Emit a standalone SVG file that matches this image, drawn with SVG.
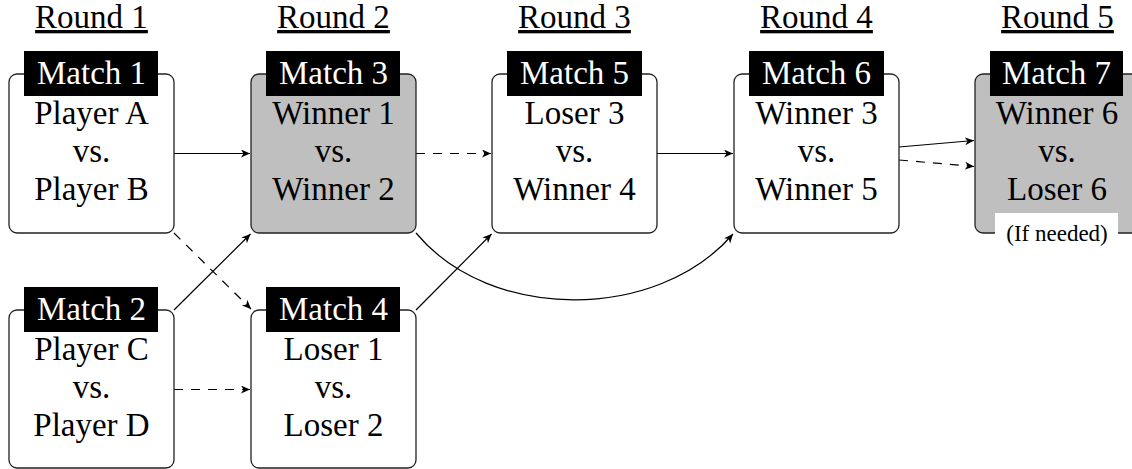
<svg xmlns="http://www.w3.org/2000/svg" width="1132" height="469" viewBox="0 0 1132 469">
  <style>
    text { font-family: 'Liberation Serif', 'DejaVu Serif', serif; }
    .box { fill: #ffffff; stroke: #222222; stroke-width: 1.3; }
    .box.final { fill: #bfbfbf; }
    .tag { fill: #000000; }
    .tagtext { fill: #ffffff; font-size: 33px; text-anchor: middle; }
    .body { fill: #000000; font-size: 33px; text-anchor: middle; }
    .round { fill: #000000; font-size: 33px; text-anchor: middle; text-decoration: underline; }
    .note { fill: #000000; font-size: 23px; text-anchor: middle; }
    .edge { fill: none; stroke: #000000; stroke-width: 1.2; marker-end: url(#tip); }
    .dashed { stroke-dasharray: 9 8; }
  </style>
  <defs>
    <marker id="tip" markerUnits="userSpaceOnUse" markerWidth="12" markerHeight="10" refX="9" refY="4" orient="auto">
      <path d="M0,0 L9,4 L0,8 L2.5,4 Z" fill="#000000"/>
    </marker>
  </defs>

  <rect width="1132" height="469" fill="#ffffff"/>

  <!-- round headings -->
  <g id="rounds">
    <text class="round" x="91.5" y="28">Round 1</text>
    <text class="round" x="333.5" y="28">Round 2</text>
    <text class="round" x="574.5" y="28">Round 3</text>
    <text class="round" x="816.5" y="28">Round 4</text>
    <text class="round" x="1057.5" y="28">Round 5</text>
  </g>

  <!-- connectors -->
  <g id="connectors">
    <line class="edge" x1="174" y1="153.5" x2="250" y2="153.5"/>
    <line class="edge dashed" x1="416" y1="153.5" x2="491" y2="153.5"/>
    <line class="edge" x1="657" y1="153.5" x2="733" y2="153.5"/>
    <line class="edge" x1="899" y1="147" x2="974" y2="140.5"/>
    <line class="edge dashed" x1="899" y1="160" x2="974" y2="166.5"/>
    <line class="edge dashed" x1="174" y1="233" x2="251" y2="309"/>
    <line class="edge" x1="174" y1="310" x2="250.5" y2="234"/>
    <line class="edge dashed" x1="174" y1="389.5" x2="250" y2="389.5"/>
    <line class="edge" x1="416" y1="310" x2="491.5" y2="234"/>
    <path class="edge" d="M416,233 C490,322 657,322 733,234"/>
  </g>

  <!-- Round 1 -->
  <g id="match1">
    <rect class="box" x="9" y="74" width="165" height="159" rx="8"/>
    <rect class="tag" x="24" y="51" width="134" height="45"/>
    <text class="tagtext" x="91.5" y="84">Match 1</text>
    <text class="body" x="91.5" y="124">Player A</text>
    <text class="body" x="91.5" y="162">vs.</text>
    <text class="body" x="91.5" y="200">Player B</text>
  </g>
  <g id="match2">
    <rect class="box" x="9" y="310" width="165" height="158" rx="8"/>
    <rect class="tag" x="24" y="287" width="134" height="45"/>
    <text class="tagtext" x="91.5" y="320">Match 2</text>
    <text class="body" x="91.5" y="360">Player C</text>
    <text class="body" x="91.5" y="398">vs.</text>
    <text class="body" x="91.5" y="436">Player D</text>
  </g>

  <!-- Round 2 -->
  <g id="match3">
    <rect class="box final" x="251" y="74" width="165" height="159" rx="8"/>
    <rect class="tag" x="266" y="51" width="134" height="45"/>
    <text class="tagtext" x="333.5" y="84">Match 3</text>
    <text class="body" x="333.5" y="124">Winner 1</text>
    <text class="body" x="333.5" y="162">vs.</text>
    <text class="body" x="333.5" y="200">Winner 2</text>
  </g>
  <g id="match4">
    <rect class="box" x="251" y="310" width="165" height="158" rx="8"/>
    <rect class="tag" x="266" y="287" width="134" height="45"/>
    <text class="tagtext" x="333.5" y="320">Match 4</text>
    <text class="body" x="333.5" y="360">Loser 1</text>
    <text class="body" x="333.5" y="398">vs.</text>
    <text class="body" x="333.5" y="436">Loser 2</text>
  </g>

  <!-- Round 3 -->
  <g id="match5">
    <rect class="box" x="492" y="74" width="165" height="159" rx="8"/>
    <rect class="tag" x="507" y="51" width="135" height="45"/>
    <text class="tagtext" x="574.5" y="84">Match 5</text>
    <text class="body" x="574.5" y="124">Loser 3</text>
    <text class="body" x="574.5" y="162">vs.</text>
    <text class="body" x="574.5" y="200">Winner 4</text>
  </g>

  <!-- Round 4 -->
  <g id="match6">
    <rect class="box" x="734" y="74" width="165" height="159" rx="8"/>
    <rect class="tag" x="749" y="51" width="135" height="45"/>
    <text class="tagtext" x="816.5" y="84">Match 6</text>
    <text class="body" x="816.5" y="124">Winner 3</text>
    <text class="body" x="816.5" y="162">vs.</text>
    <text class="body" x="816.5" y="200">Winner 5</text>
  </g>

  <!-- Round 5 -->
  <g id="match7">
    <rect class="box final" x="975" y="74" width="165" height="159" rx="8"/>
    <rect class="tag" x="990" y="51" width="133" height="45"/>
    <text class="tagtext" x="1056.5" y="84">Match 7</text>
    <text class="body" x="1057" y="124">Winner 6</text>
    <text class="body" x="1057" y="162">vs.</text>
    <text class="body" x="1057" y="200">Loser 6</text>
    <rect x="995" y="213" width="123" height="40" fill="#ffffff"/>
    <text class="note" x="1057" y="241">(If needed)</text>
  </g>
</svg>
